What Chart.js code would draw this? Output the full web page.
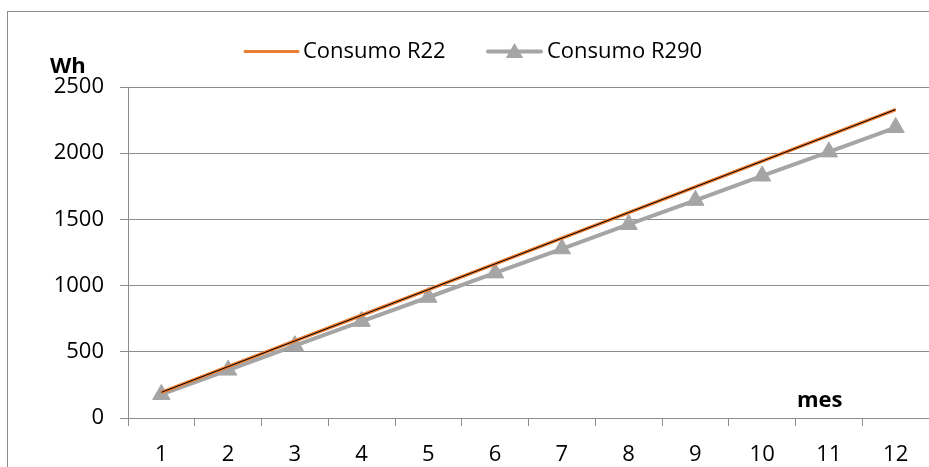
<!DOCTYPE html>
<html>
<head>
<meta charset="utf-8">
<script src="https://cdn.jsdelivr.net/npm/chart.js@4/dist/chart.umd.min.js"></script>
<style>
html,body{margin:0;padding:0;overflow:hidden;background:#fff;}
#wrap{position:absolute;left:0;top:0;width:940px;height:467px;}
</style>
</head>
<body>
<div id="wrap"><canvas id="c" width="940" height="467"></canvas></div>
<script>
const months = ['1','2','3','4','5','6','7','8','9','10','11','12'];
const consumoR22 = [194, 388, 582, 776, 970, 1164, 1358, 1552, 1746, 1940, 2134, 2330];
const consumoR290 = [178, 362, 546, 730, 912, 1096, 1278, 1462, 1644, 1828, 2010, 2194];
const seriesNames = ['Consumo R22', 'Consumo R290'];
const yAxisTitle = 'Wh';
const xAxisTitle = 'mes';

const FONT = '"Open Sans", sans-serif';
const GRID = '#8c8c8c';
const ORANGE = '#ED7D31';
const GREY = '#A5A5A5';

const decor = {
  id: 'decor',
  beforeDraw(chart) {
    const ctx = chart.ctx;
    ctx.save();
    ctx.strokeStyle = GRID;
    ctx.lineWidth = 1;
    ctx.strokeRect(7.5, 11.5, 1200, 1200);
    ctx.restore();
  },
  afterDraw(chart) {
    const ctx = chart.ctx;
    ctx.save();
    ctx.lineCap = 'round';
    ctx.strokeStyle = ORANGE; ctx.lineWidth = 3;
    ctx.beginPath(); ctx.moveTo(245, 51.5); ctx.lineTo(298, 51.5); ctx.stroke();
    ctx.strokeStyle = GREY; ctx.lineWidth = 4;
    ctx.beginPath(); ctx.moveTo(488, 51.5); ctx.lineTo(541, 51.5); ctx.stroke();
    ctx.fillStyle = GREY;
    const tx = 514.5, ty = 53, r = 10;
    ctx.beginPath();
    ctx.moveTo(tx, ty - r);
    ctx.lineTo(tx + r * Math.sin(2*Math.PI/3), ty - r * Math.cos(2*Math.PI/3));
    ctx.lineTo(tx + r * Math.sin(4*Math.PI/3), ty - r * Math.cos(4*Math.PI/3));
    ctx.closePath(); ctx.fill();
    ctx.fillStyle = '#000';
    ctx.font = '22px ' + FONT;
    ctx.textBaseline = 'middle';
    ctx.textAlign = 'left';
    ctx.fillText(seriesNames[0], 303, 52);
    ctx.fillText(seriesNames[1], 547, 52);
    ctx.font = 'bold 22px ' + FONT;
    ctx.fillText(yAxisTitle, 50, 67);
    ctx.fillText(xAxisTitle, 797, 401);
    ctx.restore();
  }
};

new Chart(document.getElementById('c'), {
  type: 'line',
  data: {
    labels: months,
    datasets: [
      { label: 'trend', data: consumoR22, borderColor: '#000', borderWidth: 1, pointRadius: 0, order: 0, tension: 0 },
      { label: seriesNames[0], data: consumoR22, borderColor: ORANGE, borderWidth: 3.5, pointRadius: 0, order: 1, tension: 0 },
      { label: seriesNames[1], data: consumoR290, borderColor: GREY, borderWidth: 4, pointStyle: 'triangle',
        pointRadius: 10, pointBackgroundColor: GREY, pointBorderColor: GREY, pointBorderWidth: 1, order: 2, tension: 0 }
    ]
  },
  options: {
    responsive: false,
    animation: false,
    events: [],
    layout: { padding: { top: 87, right: 2, left: 0, bottom: 0 } },
    plugins: { legend: { display: false }, tooltip: { enabled: false } },
    scales: {
      x: {
        offset: true,
        grid: { display: true, drawOnChartArea: false, offset: true, color: GRID, tickLength: 8 },
        border: { display: true, color: GRID, width: 1 },
        ticks: { color: '#000', font: { family: FONT, size: 22 }, padding: 16, maxRotation: 0, autoSkip: false },
        afterFit(s) { s.height = 49; }
      },
      y: {
        min: 0, max: 2500,
        grid: { color: GRID, tickLength: 8, lineWidth: 1 },
        border: { display: true, color: GRID, width: 1 },
        ticks: { stepSize: 500, color: '#000', font: { family: FONT, size: 22 }, padding: 16,
                 callback: (v) => String(v) },
        afterFit(s) { s.width = 128; }
      }
    }
  },
  plugins: [decor]
});
</script>
</body>
</html>
